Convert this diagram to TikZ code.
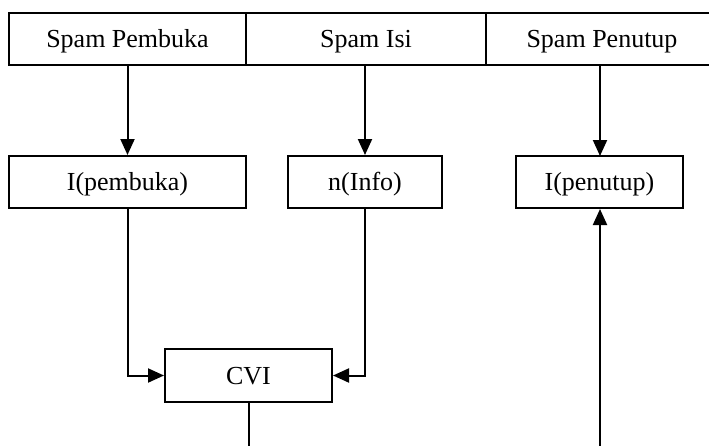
\documentclass[tikz,border=0pt]{standalone}
\usepackage{fontspec}
\setmainfont{Liberation Serif}
\usetikzlibrary{arrows.meta}
\begin{document}
\begin{tikzpicture}[x=1pt,y=-1pt,
  box/.style={draw,line width=2pt,inner sep=0pt,text height=23pt,text depth=6pt,font=\fontsize{26}{30}\selectfont},
  conn/.style={line width=2pt},
  arr/.style={conn,-{Triangle[length=16pt,width=14pt]}}]
\useasboundingbox (0,0) rectangle (709,445);
\clip (0,0) rectangle (709,445);
% top row
\node[box,minimum width=237pt,minimum height=52pt] (t1) at (127.5,39) {Spam Pembuka};
\node[box,minimum width=240pt,minimum height=52pt] (t2) at (366,39) {Spam Isi};
\node[box,minimum width=232pt,minimum height=52pt] (t3) at (602,39) {Spam Penutup};
% middle row
\node[box,minimum width=237pt,minimum height=52pt] (m1) at (127.5,182) {I(pembuka)};
\node[box,minimum width=154pt,minimum height=52pt] (m2) at (365,182) {n(Info)};
\node[box,minimum width=167pt,minimum height=52pt] (m3) at (599.5,182) {I(penutup)};
% CVI
\node[box,minimum width=167pt,minimum height=53pt] (cvi) at (248.5,375.5) {CVI};
\coordinate (e1) at (248.5,450);
\coordinate (e2) at (600,450);
% connectors
\draw[arr] (t1.south -| m1.north) -- (m1.north);
\draw[arr] (t2.south -| m2.north) -- (m2.north);
\draw[arr] (t3.south -| 600,0) -- (600,156);
\draw[arr] (m1.south) |- (cvi.west);
\draw[arr] (m2.south) |- (cvi.east);
\draw[conn] (cvi.south) -- (e1);
\draw[arr] (e2) -- (m3.south -| e2);
\end{tikzpicture}
\end{document}
